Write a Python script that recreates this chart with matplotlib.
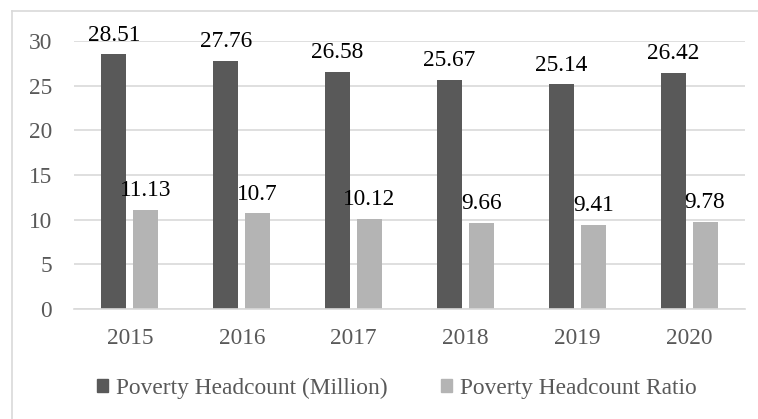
import matplotlib
matplotlib.use("Agg")
import matplotlib.pyplot as plt
import numpy as np
from matplotlib.patches import Rectangle
from matplotlib.lines import Line2D

years = ["2015", "2016", "2017", "2018", "2019", "2020"]
headcount = [28.51, 27.76, 26.58, 25.67, 25.14, 26.42]
ratio = [11.13, 10.7, 10.12, 9.66, 9.41, 9.78]
headcount_labels = ["28.51", "27.76", "26.58", "25.67", "25.14", "26.42"]
ratio_labels = ["11.13", "10.7", "10.12", "9.66", "9.41", "9.78"]
series_names = ["Poverty Headcount (Million)", "Poverty Headcount Ratio"]
yticks = [0, 5, 10, 15, 20, 25, 30]

plt.rcParams['font.family'] = ['Liberation Serif', 'DejaVu Serif']
FS = 16.8

W, H = 758, 419
fig = plt.figure(figsize=(W / 100, H / 100), dpi=100)
ax = fig.add_axes([74 / W, 1 - 309 / H, (745 - 74) / W, (309 - 41) / H])

x = np.arange(len(years))
bw = 0.224
off = 0.143
dark = "#595959"
light = "#B4B4B4"
ax.bar(x - off, headcount, bw, color=dark, zorder=3)
ax.bar(x + off, ratio, bw, color=light, zorder=3)

for xi, v, lab in zip(x, headcount, headcount_labels):
    ax.annotate(lab, (xi - off, v), xytext=(0, 9.8), textcoords="offset points",
                ha="center", va="baseline", fontsize=FS, color="black")
for xi, v, lab in zip(x, ratio, ratio_labels):
    ax.annotate(lab, (xi + off, v), xytext=(0, 9.8), textcoords="offset points",
                ha="center", va="baseline", fontsize=FS, color="black")

ax.set_xlim(-0.5, len(years) - 0.5)
ax.set_ylim(0, 30)
ax.set_yticks(yticks)
ax.set_yticklabels([str(t) for t in yticks])
ax.set_xticks(x)
ax.set_xticklabels(years)
ax.tick_params(axis="both", length=0, labelsize=FS, colors="#595959")
ax.tick_params(axis="y", pad=15.8)
ax.tick_params(axis="x", pad=14)
ax.yaxis.grid(True, color="#D9D9D9", linewidth=1.2, zorder=0)
ax.set_axisbelow(True)
for s in ["top", "right", "left"]:
    ax.spines[s].set_visible(False)
ax.spines["bottom"].set_color("#D9D9D9")
ax.spines["bottom"].set_linewidth(1.2)
ax.spines["bottom"].set_zorder(4)

handles = [Rectangle((0, 0), 1, 1, color=dark), Rectangle((0, 0), 1, 1, color=light)]
leg = fig.legend(handles, series_names, loc="center", bbox_to_anchor=(397 / W, 1 - 388 / H),
                 ncol=2, frameon=False, fontsize=FS, handlelength=0.45, handleheight=0.45,
                 handletextpad=0.35, columnspacing=2.3, borderpad=0, borderaxespad=0)
for t in leg.get_texts():
    t.set_color("#595959")

# outer chart border (top and left visible)
fig.add_artist(Line2D([12 / W, 12 / W], [0, 1 - 11 / H], transform=fig.transFigure,
                      color="#D9D9D9", linewidth=1.2))
fig.add_artist(Line2D([12 / W, 1], [1 - 11 / H, 1 - 11 / H], transform=fig.transFigure,
                      color="#D9D9D9", linewidth=1.2))

fig.savefig("out.png", dpi=100)
